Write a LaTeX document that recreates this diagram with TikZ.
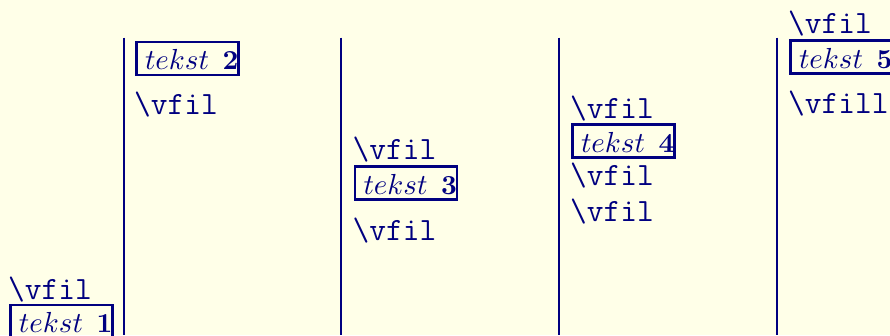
\documentclass[tikz,border=0pt]{standalone}
\usepackage{graphicx}
\usepackage{fontspec}
\definecolor{paper}{RGB}{255,255,232}
\definecolor{ink}{RGB}{0,0,128}
\tikzset{
  x=1pt, y=-1pt,
  every node/.style={text=ink, inner sep=0pt, font=\normalsize},
  glue/.style={anchor=base west, font=\fontsize{32.5}{39}\selectfont\ttfamily},
  tbox/.style={draw=ink, line width=2.5pt, anchor=base west,
    text height=27.5pt, text depth=5.5pt},
  rule/.style={draw=ink, line width=2.8pt}
}
% framed label: italic word, then a bold digit
\newcommand{\tk}[1]{\hspace{8.5pt}\scalebox{2.9}{$tekst$}\hspace{13.5pt}\scalebox{2.75}{\bfseries #1}\hspace{5.5pt}}
\begin{document}
\begin{tikzpicture}
\fill[paper] (0,0) rectangle (890,335);
\useasboundingbox (0,0) rectangle (890,335);
% column separators
\coordinate (s1t) at (124,37.5); \coordinate (s1b) at (124,335);
\coordinate (s2t) at (341,37.5); \coordinate (s2b) at (341,335);
\coordinate (s3t) at (559,37.5); \coordinate (s3b) at (559,335);
\coordinate (s4t) at (777,37.5); \coordinate (s4b) at (777,335);
\draw[rule] (s1t) -- (s1b);
\draw[rule] (s2t) -- (s2b);
\draw[rule] (s3t) -- (s3b);
\draw[rule] (s4t) -- (s4b);
% column 1
\node[glue] (c1g1) at (8,299.5) {\textbackslash vfil};
\node[tbox] (c1b) at (9.25,332.5) {\tk{1}};
% column 2
\node[tbox] (c2b) at (135.25,69.5) {\tk{2}};
\node[glue] (c2g1) at (134,114.5) {\textbackslash vfil};
% column 3
\node[glue] (c3g1) at (352.5,159) {\textbackslash vfil};
\node[tbox] (c3b) at (353.75,194) {\tk{3}};
\node[glue] (c3g2) at (352.5,240.5) {\textbackslash vfil};
% column 4
\node[glue] (c4g1) at (570,118.5) {\textbackslash vfil};
\node[tbox] (c4b) at (571.25,152) {\tk{4}};
\node[glue] (c4g2) at (570,185.5) {\textbackslash vfil};
\node[glue] (c4g3) at (570,221.5) {\textbackslash vfil};
% column 5
\node[glue] (c5g1) at (788,33) {\textbackslash vfil};
\node[tbox] (c5b) at (789.25,68) {\tk{5}};
\node[glue] (c5g2) at (788,113.5) {\textbackslash vfill};
\end{tikzpicture}
\end{document}
